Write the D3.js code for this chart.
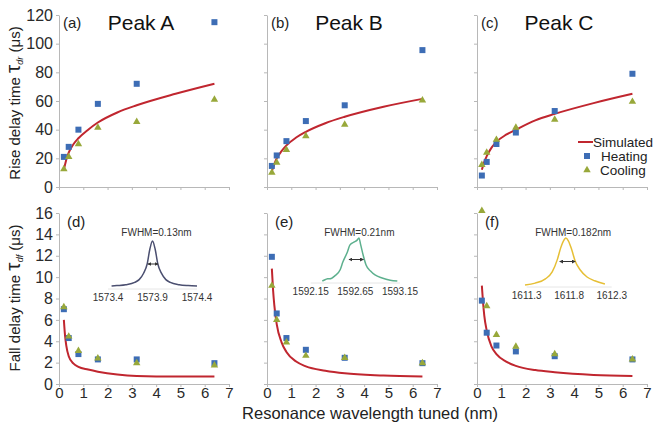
<!DOCTYPE html>
<html>
<head>
<meta charset="utf-8">
<script src="https://cdn.jsdelivr.net/npm/d3@7"></script>
<style>
  body{margin:0;background:#fff;}
  text{font-family:"Liberation Sans",Arial,sans-serif;}
</style>
</head>
<body>
<div id="chart"></div>
<script>
// measured points, x = resonance wavelength tuned (nm)
var tunedNm = [0.2, 0.4, 0.8, 1.6, 3.2, 6.4];
var riseHeatA = [21, 28, 40, 58, 72, 115];
var riseCoolA = [12.5, 21, 30, 41.5, 45.5, 61];
var riseHeatB = [14.7, 22, 32, 46, 57, 95.5];
var riseCoolB = [10, 17, 26, 35.5, 43.5, 60.5];
var riseHeatC = [8, 17.5, 30, 38, 53, 79];
var riseCoolC = [15.5, 24, 33, 41.5, 47, 59.5];
var fallHeatD = [7.0, 4.3, 2.8, 2.3, 2.3, 1.95];
var fallCoolD = [7.2, 4.45, 3.1, 2.4, 1.95, 1.75];
var fallHeatE = [11.9, 6.6, 4.3, 3.2, 2.45, 1.95];
var fallCoolE = [9.2, 6.0, 3.9, 2.65, 2.45, 1.95];
var fallHeatF = [7.8, 4.8, 3.6, 3.05, 2.6, 2.3];
var fallCoolF = [16.2, 7.3, 4.6, 3.5, 2.8, 2.3];

// simulated curves
var riseSimX = [0.2, 0.3, 0.4, 0.6, 0.8, 1.2, 1.6, 2.4, 3.2, 4.8, 6.4];
var riseSimA = [12, 19, 24, 30, 34, 40, 45, 52, 57, 65, 72];
var riseSimB = [11, 16, 20, 25, 29, 34.5, 38.5, 44.5, 49, 56, 61.5];
var riseSimC = [12, 17.5, 21.5, 27.5, 31.5, 36.5, 40, 46.5, 51, 58.5, 65];
var fallSimX = [0.2, 0.25, 0.3, 0.4, 0.6, 0.8, 1.2, 1.6, 2.4, 3.2, 4.8, 6.4];
var fallSimD = [6.0, 4.5, 3.6, 2.6, 1.9, 1.6, 1.35, 1.15, 0.88, 0.75, 0.7, 0.7];
var fallSimE = [10.8, 8.8, 7.4, 5.6, 3.9, 3.0, 2.1, 1.65, 1.25, 1.0, 0.8, 0.7];
var fallSimF = [9.2, 7.6, 6.4, 5.0, 3.5, 2.8, 2.1, 1.7, 1.3, 1.1, 0.85, 0.75];

var xTicks = [0, 1, 2, 3, 4, 5, 6, 7];
var riseTicks = [0, 20, 40, 60, 80, 100, 120];
var fallTicks = [0, 2, 4, 6, 8, 10, 12, 14, 16];
var peakNames = ['Peak A', 'Peak B', 'Peak C'];
var riseTags = ['(a)', '(b)', '(c)'];
var fallTags = ['(d)', '(e)', '(f)'];
var legendNames = ['Simulated', 'Heating', 'Cooling'];

// transmission spectra in the insets (normalised)
var specWlD = [1573.44, 1573.5, 1573.6, 1573.7, 1573.75, 1573.8, 1573.84, 1573.87, 1573.9, 1573.93, 1573.96, 1574.0, 1574.05, 1574.1, 1574.2, 1574.3, 1574.4];
var specD = [0.02, 0.03, 0.05, 0.1, 0.16, 0.3, 0.5, 0.82, 1.0, 0.82, 0.5, 0.3, 0.16, 0.1, 0.05, 0.03, 0.02];
var specWlE = [1592.28, 1592.31, 1592.34, 1592.38, 1592.42, 1592.48, 1592.51, 1592.56, 1592.59, 1592.64, 1592.67, 1592.69, 1592.71, 1592.74, 1592.77, 1592.82, 1592.87, 1592.95, 1593.04, 1593.12];
var specE = [0, 0.03, 0.05, 0.06, 0.12, 0.26, 0.44, 0.67, 0.84, 0.91, 0.95, 1.0, 0.84, 0.58, 0.37, 0.23, 0.14, 0.07, 0.02, 0];
var specWlF = [1611.28, 1611.4, 1611.52, 1611.6, 1611.66, 1611.7, 1611.74, 1611.76, 1611.79, 1611.83, 1611.87, 1611.93, 1612.01, 1612.1, 1612.22];
var specF = [0, 0.04, 0.13, 0.28, 0.54, 0.79, 0.96, 1.0, 0.94, 0.75, 0.51, 0.32, 0.17, 0.09, 0.02];
var specTicks = [[1573.4, 1573.9, 1574.4], [1592.15, 1592.65, 1593.15], [1611.3, 1611.8, 1612.3]];
var fwhmLabels = ['FWHM=0.13nm', 'FWHM=0.21nm', 'FWHM=0.182nm'];
var fwhmEdges = [[1573.85, 1573.96], [1592.58, 1592.74], [1611.69, 1611.87]];

var lineColor = '#c0262f', heatColor = '#3d6db5', coolColor = '#98a83a', axisColor = '#b8b8b8';
var specColors = ['#4b4f70', '#5db08e', '#e6bf35'];

var svg = d3.select('#chart').append('svg')
  .attr('width', 665)
  .attr('height', 425);

var panelLeft = [59, 267, 477], panelWidth = 170;
var xs = panelLeft.map(function(l){
  return d3.scaleLinear().domain([0, 7]).range([l, l + panelWidth]);
});
var yRise = d3.scaleLinear().domain([0, 120]).range([187, 15]);
var yFall = d3.scaleLinear().domain([0, 16]).range([384, 213]);

var riseSets = [[riseHeatA, riseCoolA, riseSimA], [riseHeatB, riseCoolB, riseSimB], [riseHeatC, riseCoolC, riseSimC]];
var fallSets = [[fallHeatD, fallCoolD, fallSimD], [fallHeatE, fallCoolE, fallSimE], [fallHeatF, fallCoolF, fallSimF]];

function styleAxis(g, fontSize){
  g.select('.domain').attr('stroke', axisColor);
  g.selectAll('.tick line').attr('stroke', axisColor);
  g.selectAll('.tick text')
    .attr('fill', '#2a2a2a')
    .style('font-size', fontSize + 'px')
    .style('font-family', '"Liberation Sans",Arial,sans-serif');
}

function drawPanel(i, y, yTicks, sets, simX, bottom){
  var x = xs[i];
  var g = svg.append('g');

  var yAxis = d3.axisLeft(y).tickValues(yTicks).tickSize(3).tickSizeOuter(0).tickPadding(3)
    .tickFormat(i == 0 ? d3.format('d') : function(){ return ''; });
  g.append('g').attr('transform', 'translate(' + x(0) + ',0)').call(yAxis).call(styleAxis, 16);

  var xAxis = d3.axisBottom(x).tickValues(xTicks).tickSize(3).tickSizeOuter(0).tickPadding(0)
    .tickFormat(bottom ? d3.format('d') : function(){ return ''; });
  g.append('g').attr('transform', 'translate(0,' + y(0) + ')').call(xAxis).call(styleAxis, 15);

  // simulated curve
  var line = d3.line()
    .x(function(d, k){ return x(simX[k]); })
    .y(function(d){ return y(d); })
    .curve(d3.curveMonotoneX);
  g.append('path')
    .attr('d', line(sets[2]))
    .attr('fill', 'none')
    .attr('stroke', lineColor)
    .attr('stroke-width', 2);

  // heating = squares
  g.selectAll('.heat').data(sets[0]).enter().append('rect')
    .attr('x', function(d, k){ return x(tunedNm[k]) - 3; })
    .attr('y', function(d){ return y(d) - 3; })
    .attr('width', 6)
    .attr('height', 6)
    .attr('fill', heatColor);

  // cooling = triangles
  var tri = d3.symbol().type(d3.symbolTriangle).size(24);
  g.selectAll('.cool').data(sets[1]).enter().append('path')
    .attr('d', tri)
    .attr('transform', function(d, k){ return 'translate(' + x(tunedNm[k]) + ',' + y(d) + ')'; })
    .attr('fill', coolColor);
}

for (var i = 0; i < 3; i++) {
  drawPanel(i, yRise, riseTicks, riseSets[i], riseSimX, false);
  drawPanel(i, yFall, fallTicks, fallSets[i], fallSimX, true);

  svg.append('text')
    .attr('x', panelLeft[i] + 4)
    .attr('y', 28)
    .style('font-size', '15px')
    .attr('fill', '#222')
    .text(riseTags[i]);
  svg.append('text')
    .attr('x', panelLeft[i] + 82)
    .attr('y', 30)
    .attr('text-anchor', 'middle')
    .style('font-size', '21px')
    .attr('fill', '#111')
    .text(peakNames[i]);
  svg.append('text')
    .attr('x', panelLeft[i] + 8)
    .attr('y', 227)
    .style('font-size', '15px')
    .attr('fill', '#222')
    .text(fallTags[i]);
}

// insets
var insetPx = [[108, 197], [310.7, 400], [526.7, 611.7]];
var insetBase = [287, 281, 285];
var insetHeight = [46, 43, 47];
var specWl = [specWlD, specWlE, specWlF];
var spec = [specD, specE, specF];

var defs = svg.append('defs');
defs.append('marker')
  .attr('id', 'arr')
  .attr('viewBox', '0 0 6 6')
  .attr('refX', 5).attr('refY', 3)
  .attr('markerWidth', 4).attr('markerHeight', 4)
  .attr('orient', 'auto-start-reverse')
  .append('path').attr('d', 'M0,0L6,3L0,6Z').attr('fill', '#333');

for (var j = 0; j < 3; j++) {
  var sx = d3.scaleLinear().domain([specTicks[j][0], specTicks[j][2]]).range(insetPx[j]);
  var sy = d3.scaleLinear().domain([0, 1]).range([insetBase[j], insetBase[j] - insetHeight[j]]);
  var ig = svg.append('g');

  ig.append('line')
    .attr('x1', sx(specTicks[j][0])).attr('x2', sx(specTicks[j][2]))
    .attr('y1', insetBase[j] + 2).attr('y2', insetBase[j] + 2)
    .attr('stroke', '#e6e6e6');

  var sl = d3.line()
    .x(function(d, k){ return sx(specWl[j][k]); })
    .y(function(d){ return sy(d); })
    .curve(d3.curveMonotoneX);
  ig.append('path')
    .attr('d', sl(spec[j]))
    .attr('fill', 'none')
    .attr('stroke', specColors[j])
    .attr('stroke-width', 1.5);

  ig.append('line')
    .attr('x1', sx(fwhmEdges[j][0])).attr('x2', sx(fwhmEdges[j][1]))
    .attr('y1', sy(0.5)).attr('y2', sy(0.5))
    .attr('stroke', '#333')
    .attr('stroke-width', 1)
    .attr('marker-start', 'url(#arr)')
    .attr('marker-end', 'url(#arr)');

  ig.selectAll('.st').data(specTicks[j]).enter().append('text')
    .attr('x', function(d){ return sx(d); })
    .attr('y', insetBase[j] + 14)
    .attr('text-anchor', 'middle')
    .style('font-size', '10px')
    .attr('fill', '#333')
    .text(function(d){ return d; });

  ig.append('text')
    .attr('x', sx(specTicks[j][1]) + 4)
    .attr('y', 236)
    .attr('text-anchor', 'middle')
    .style('font-size', '10px')
    .attr('fill', '#333')
    .text(fwhmLabels[j]);
}

// legend
var lg = svg.append('g');
lg.append('line').attr('x1', 578).attr('x2', 593).attr('y1', 142).attr('y2', 142)
  .attr('stroke', lineColor).attr('stroke-width', 2);
lg.append('rect').attr('x', 584).attr('y', 153).attr('width', 6).attr('height', 6).attr('fill', heatColor);
lg.append('path').attr('d', d3.symbol().type(d3.symbolTriangle).size(24))
  .attr('transform', 'translate(587,170)').attr('fill', coolColor);
lg.selectAll('.lt').data(legendNames).enter().append('text')
  .attr('x', function(d, k){ return [593, 601, 600][k]; })
  .attr('y', function(d, k){ return 142 + 14 * k; })
  .attr('dy', '0.35em')
  .style('font-size', '13.5px')
  .attr('fill', '#222')
  .text(function(d){ return d; });

// axis titles
function yTitle(cy, lead, sub){
  var t = svg.append('text')
    .attr('transform', 'translate(15,' + cy + ') rotate(-90)')
    .attr('text-anchor', 'middle')
    .attr('dy', '0.35em')
    .style('font-size', '15px')
    .attr('fill', '#222');
  t.append('tspan').text(lead);
  t.append('tspan').style('font-size', '21px').text('τ');
  t.append('tspan').style('font-size', '9px').style('font-style', 'italic').attr('dy', '3').text(sub);
  t.append('tspan').attr('dy', '-3').text(' (μs)');
}
yTitle(103, 'Rise delay time ', 'dr');
yTitle(298, 'Fall delay time ', 'df');

svg.append('text')
  .attr('x', 370)
  .attr('y', 419)
  .attr('text-anchor', 'middle')
  .style('font-size', '16.5px')
  .attr('fill', '#222')
  .text('Resonance wavelength tuned (nm)');
</script>
</body>
</html>
